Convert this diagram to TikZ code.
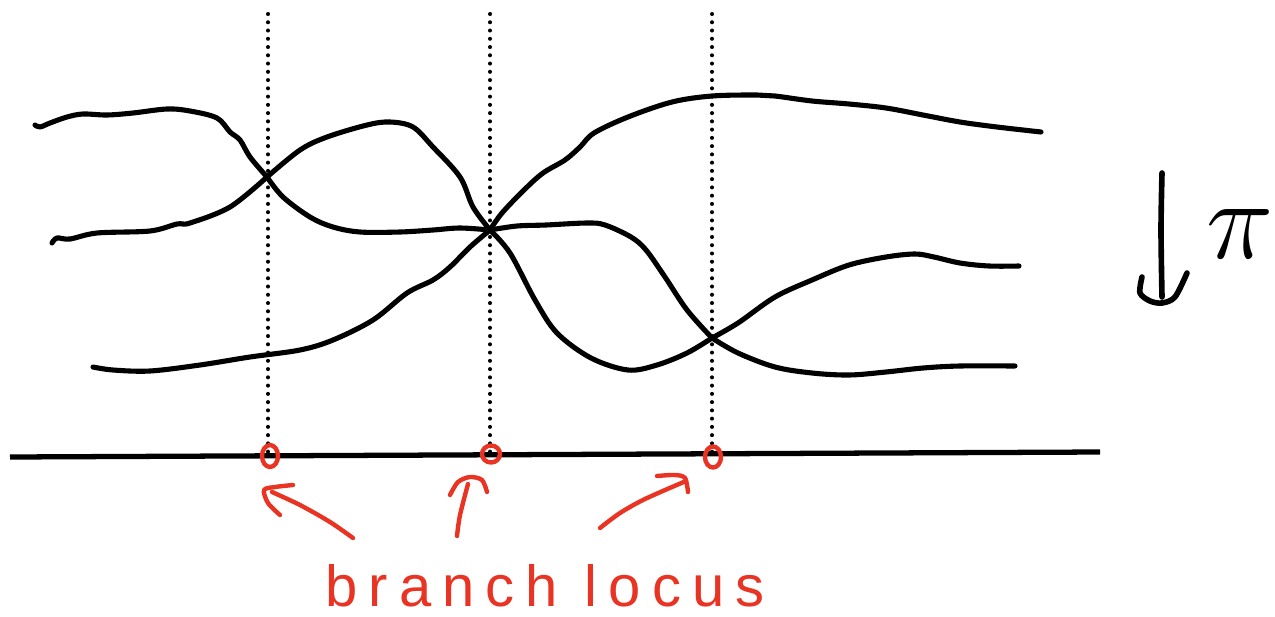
\documentclass[tikz,border=0pt]{standalone}
\usepackage{fontspec}
\newfontfamily\hand[LetterSpace=19]{Liberation Sans}
\definecolor{penred}{RGB}{233,51,35}
\begin{document}
\begin{tikzpicture}[x=0.02cm,y=-0.02cm,
  sheet/.style={line width=2.9pt,line cap=round,line join=round},
  fibre/.style={line width=2.3pt,line cap=round,dash pattern=on 0pt off 4.7pt},
  base/.style={line width=3pt},
  redpen/.style={penred,line width=2.5pt,line cap=round,line join=round},
  label/.style={penred,font=\hand\fontsize{33}{40}\selectfont,inner sep=0pt}]
\useasboundingbox (0,0) rectangle (1275,616);
\fill[white] (0,0) rectangle (1275,616);
% crossings
\coordinate (P1) at (267,177);
\coordinate (P2) at (490,230);
\coordinate (P3) at (712,338);
% dotted fibres
\foreach \n/\x in {a/268,b/490,c/712}{
  \coordinate (top\n) at (\x,14);
  \coordinate (bot\n) at (\x,452);
  \draw[fibre] (top\n) -- (bot\n);
}
% sheets
\draw[sheet] plot[smooth,tension=0.55] coordinates {(35,125) (40,127) (50,123) (67,117) (83,114) (107,115) (133,113) (167,109) (190,111) (217,118) (230,132) (240,140) (250,157) (P1)};
\draw[sheet] plot[smooth,tension=0.55] coordinates {(52,243) (57,238) (70,239) (97,233) (150,231) (177,224) (190,223) (230,207) (P1)};
\draw[sheet] plot[smooth,tension=0.55] coordinates {(P1) (300,150) (327,137) (367,125) (390,122) (413,127) (433,147) (460,177) (473,207) (P2)};
\draw[sheet] plot[smooth,tension=0.55] coordinates {(P1) (283,197) (310,217) (333,227) (360,232) (400,232) (433,230) (460,228) (P2)};
\draw[sheet] plot[smooth,tension=0.55] coordinates {(93,367) (113,370) (150,371) (200,365) (250,357) (300,350) (333,340) (373,320) (407,293) (433,280) (450,267) (470,247) (P2)};
\draw[sheet] plot[smooth,tension=0.55] coordinates {(P2) (502,213) (524,190) (543,173) (565,160) (580,147) (594,133) (628,117) (672,102) (712,96) (757,95) (775,96) (812,101) (849,104) (886,108) (923,115) (960,122) (997,127) (1041,132)};
\draw[sheet] plot[smooth,tension=0.55] coordinates {(P2) (517,226) (546,225) (587,223) (605,225) (631,237) (646,250) (665,277) (687,310) (P3)};
\draw[sheet] plot[smooth,tension=0.55] coordinates {(P2) (510,253) (535,300) (557,333) (591,358) (628,370) (657,365) (687,353) (P3)};
\draw[sheet] plot[smooth,tension=0.55] coordinates {(P3) (738,323) (775,297) (812,280) (849,265) (886,257) (915,254) (934,257) (960,263) (989,266) (1019,266)};
\draw[sheet] plot[smooth,tension=0.55] coordinates {(P3) (738,353) (775,367) (812,373) (849,375) (886,372) (923,368) (960,366) (1015,366)};
% base line
\coordinate (L) at (10,457);
\coordinate (R) at (1100,452);
\draw[base] (L) -- (R);
% branch points
\coordinate (B1) at (270,456);
\coordinate (B2) at (491,454);
\coordinate (B3) at (713,457);
\draw[redpen] (B1) ellipse [x radius=8,y radius=11];
\draw[redpen] (B2) ellipse [x radius=9,y radius=8.5];
\draw[redpen] (B3) ellipse [x radius=8,y radius=10.5];
% pointers
\draw[redpen] plot[smooth] coordinates {(353,538) (330,522) (300,505) (272,492)};
\draw[redpen] plot[smooth] coordinates {(293,485) (275,487) (264,490) (268,503) (280,515)};
\draw[redpen] plot[smooth] coordinates {(457,536) (460,515) (468,484)};
\draw[redpen] plot[smooth] coordinates {(450,495) (458,482) (470,477) (482,480) (487,492)};
\draw[redpen] plot[smooth] coordinates {(600,528) (620,513) (645,499) (686,481)};
\draw[redpen] plot[smooth] coordinates {(657,476) (675,475) (685,478) (688,492)};
\node[label,anchor=base] (lab) at (545,606) {branch locus};
% projection
\coordinate (ptop) at (1162,173);
\coordinate (pbot) at (1162,297);
\draw[sheet,line width=3.2pt] plot[smooth] coordinates {(ptop) (1161,230) (pbot)};
\draw[sheet,line width=3.2pt] plot[smooth] coordinates {(1142,277) (1140,293) (1150,301) (1162,303) (1175,297) (1187,273)};
\node[anchor=base,inner sep=0pt,scale=2.6] (pi) at (1240,258) {\Huge$\pi$};
\end{tikzpicture}
\end{document}
